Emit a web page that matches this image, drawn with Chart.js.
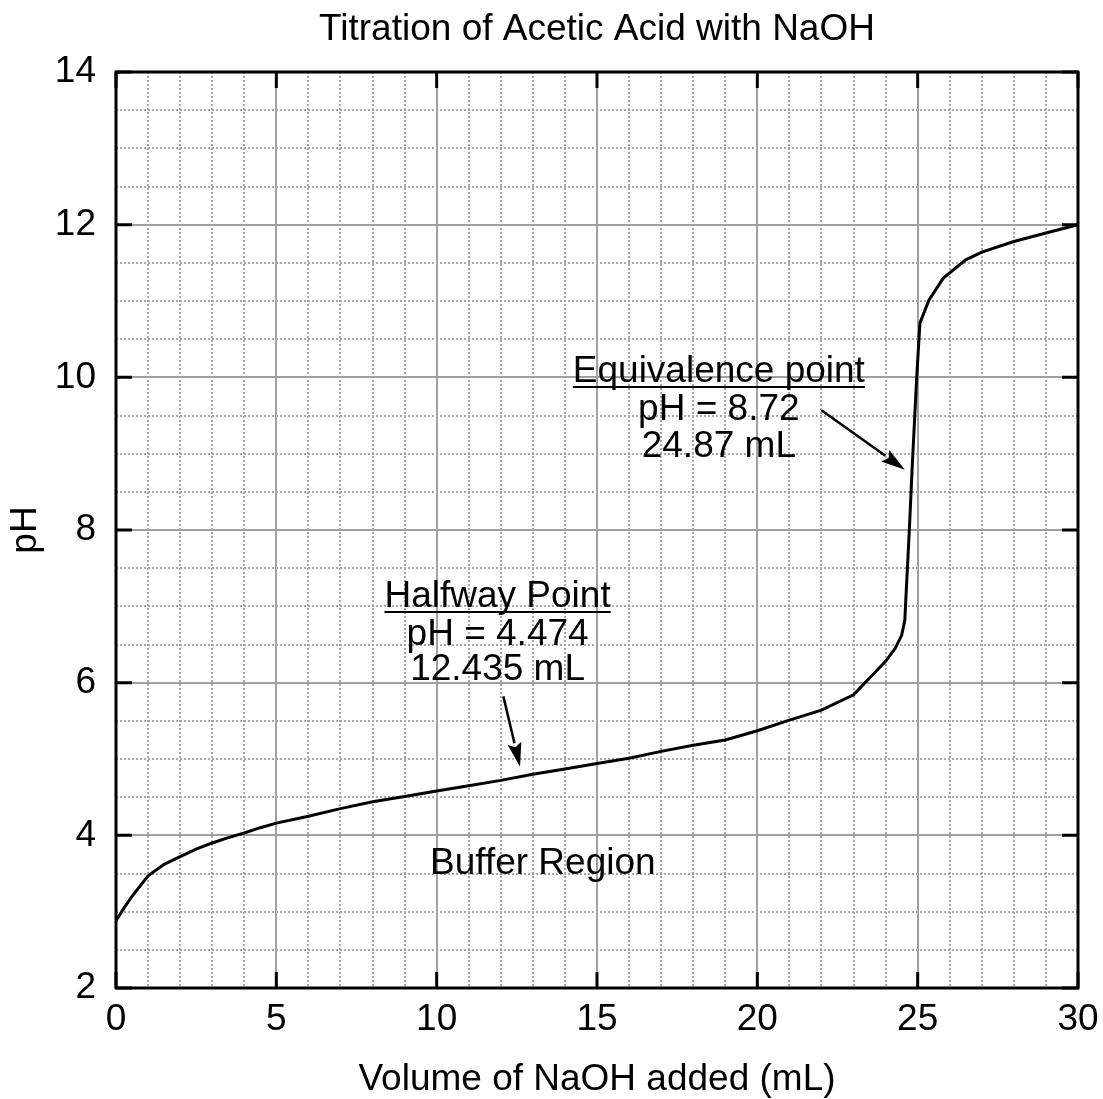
<!DOCTYPE html>
<html>
<head>
<meta charset="utf-8">
<title>Titration of Acetic Acid with NaOH</title>
<script src="https://cdn.jsdelivr.net/npm/chart.js@4.4.1/dist/chart.umd.min.js"></script>
<style>
  html, body { margin: 0; padding: 0; background: #ffffff; }
  #wrap { width: 1103px; height: 1099px; }
</style>
</head>
<body>
<div id="wrap"><canvas id="titrationChart" width="1103" height="1099"></canvas></div>
<script>
// Volume of NaOH added (mL) and the pH
const volumes  = [0, 0.25, 0.5, 1, 1.5, 2, 2.5, 3, 3.5, 4, 4.5, 5, 6, 7, 8, 9, 10, 11, 12, 13, 14, 15,
                  16, 17, 18, 19, 20, 21, 22, 23, 23.5, 24, 24.3, 24.5, 24.6, 24.62, 24.74, 24.83,
                  24.97, 25.07, 25.35, 25.8, 26.5, 27, 28, 29, 30];
const phValues = [2.88, 3.05, 3.20, 3.47, 3.62, 3.72, 3.82, 3.90, 3.97, 4.03, 4.10, 4.16, 4.25, 4.35, 4.44, 4.51, 4.58, 4.65, 4.72, 4.80, 4.87, 4.94,
                  5.01, 5.10, 5.18, 5.25, 5.37, 5.51, 5.64, 5.84, 6.06, 6.28, 6.45, 6.62, 6.82, 7.00, 8.00, 8.83,
                  10.00, 10.71, 11.01, 11.30, 11.54, 11.64, 11.78, 11.89, 12.00];

// axis ticks
const xTickLabels = [0, 5, 10, 15, 20, 25, 30];
const yTickLabels = [2, 4, 6, 8, 10, 12, 14];

const FONT = "'Liberation Sans', Arial, sans-serif";
const FSIZE = 37;

document.addEventListener('DOMContentLoaded', function() {
    const ctx = document.getElementById('titrationChart').getContext('2d');

    const isMajorX = v => xTickLabels.includes(v);
    const isMajorY = v => yTickLabels.includes(v);

    // frame, inner tick marks, title and the text annotations
    const decorations = {
        id: 'decorations',
        afterDatasetsDraw(chart) {
            const c = chart.ctx;
            const a = chart.chartArea;
            const xs = chart.scales.x;
            const ys = chart.scales.y;
            c.save();

            // inner tick marks on all four sides
            c.strokeStyle = '#000';
            c.lineWidth = 3;
            c.beginPath();
            xTickLabels.forEach(v => {
                const px = xs.getPixelForValue(v);
                c.moveTo(px, a.bottom); c.lineTo(px, a.bottom - 16);
                c.moveTo(px, a.top); c.lineTo(px, a.top + 16);
            });
            yTickLabels.forEach(v => {
                const py = ys.getPixelForValue(v);
                c.moveTo(a.left, py); c.lineTo(a.left + 16, py);
                c.moveTo(a.right, py); c.lineTo(a.right - 16, py);
            });
            c.stroke();
            c.strokeRect(a.left, a.top, a.right - a.left, a.bottom - a.top);

            // title
            c.fillStyle = '#000';
            c.textAlign = 'center';
            c.textBaseline = 'alphabetic';
            c.font = FSIZE + 'px ' + FONT;
            c.fillText('Titration of Acetic Acid with NaOH', (a.left + a.right) / 2, 40);

            // annotation blocks: x center in mL, baselines in pH
            function block(lines, xv, baselines, underline) {
                const px = xs.getPixelForValue(xv);
                lines.forEach((t, i) => {
                    const py = ys.getPixelForValue(baselines[i]);
                    c.fillText(t, px, py);
                    if (i === 0 && underline) {
                        const w = c.measureText(t).width;
                        c.lineWidth = 2;
                        c.beginPath();
                        c.moveTo(px - w / 2, py + 5);
                        c.lineTo(px + w / 2, py + 5);
                        c.stroke();
                    }
                });
            }
            function arrow(x0, y0, x1, y1) {
                const p0 = [xs.getPixelForValue(x0), ys.getPixelForValue(y0)];
                const p1 = [xs.getPixelForValue(x1), ys.getPixelForValue(y1)];
                const ang = Math.atan2(p1[1] - p0[1], p1[0] - p0[0]);
                const len = 24, hw = 7;
                const bx = p1[0] - len * Math.cos(ang), by = p1[1] - len * Math.sin(ang);
                c.lineWidth = 2.5;
                c.beginPath();
                c.moveTo(p0[0], p0[1]);
                c.lineTo(bx, by);
                c.stroke();
                c.beginPath();
                c.moveTo(p1[0], p1[1]);
                c.lineTo(bx - hw * Math.sin(ang), by + hw * Math.cos(ang));
                c.lineTo(bx + 4 * Math.cos(ang), by + 4 * Math.sin(ang));
                c.lineTo(bx + hw * Math.sin(ang), by - hw * Math.cos(ang));
                c.closePath();
                c.fill();
            }

            block(['Equivalence point', 'pH = 8.72', '24.87 mL'], 18.8, [9.94, 9.44, 8.96], true);
            arrow(22.0, 9.57, 24.6, 8.79);
            block(['Halfway Point', 'pH = 4.474', '12.435 mL'], 11.9, [6.99, 6.49, 6.04], true);
            arrow(12.08, 5.82, 12.6, 4.90);
            block(['Buffer Region'], 13.31, [3.49], false);

            c.restore();
        }
    };

    const minorColor = '#a8a8a8';
    const majorColor = '#a0a0a0';

    new Chart(ctx, {
        type: 'line',
        data: {
            datasets: [{
                label: 'pH',
                data: volumes.map((v, i) => ({ x: v, y: phValues[i] })),
                borderColor: '#000000',
                borderWidth: 3,
                pointRadius: 0,
                tension: 0,
                fill: false
            }]
        },
        options: {
            responsive: false,
            animation: false,
            devicePixelRatio: 1,
            layout: { padding: { top: 72, right: 25, bottom: 0, left: 0 } },
            scales: {
                x: {
                    type: 'linear',
                    min: 0,
                    max: 30,
                    afterFit: s => { s.height = 111; s.paddingLeft = 0; s.paddingRight = 0; },
                    ticks: {
                        stepSize: 1,
                        autoSkip: false,
                        maxRotation: 0,
                        padding: 10,
                        color: '#000',
                        font: { family: FONT, size: FSIZE },
                        callback: v => isMajorX(v) ? v : ''
                    },
                    grid: {
                        drawTicks: false,
                        color: c => isMajorX(c.tick.value) ? majorColor : minorColor,
                        lineWidth: 2
                    },
                    border: {
                        display: false,
                        dash: c => (c.tick && !isMajorX(c.tick.value)) ? [2, 2] : []
                    },
                    title: {
                        display: true,
                        text: 'Volume of NaOH added (mL)',
                        color: '#000',
                        font: { family: FONT, size: FSIZE, lineHeight: 1 },
                        padding: { top: 0, bottom: 1 }
                    }
                },
                y: {
                    type: 'linear',
                    min: 2,
                    max: 14,
                    afterFit: s => { s.width = 116; s.paddingTop = 0; s.paddingBottom = 0; },
                    ticks: {
                        stepSize: 0.5,
                        autoSkip: false,
                        padding: 20,
                        color: '#000',
                        font: { family: FONT, size: FSIZE },
                        callback: v => isMajorY(v) ? v : ''
                    },
                    grid: {
                        drawTicks: false,
                        color: c => isMajorY(c.tick.value) ? majorColor : minorColor,
                        lineWidth: 2
                    },
                    border: {
                        display: false,
                        dash: c => (c.tick && !isMajorY(c.tick.value)) ? [2, 2] : []
                    },
                    title: {
                        display: true,
                        text: 'pH',
                        color: '#000',
                        font: { family: FONT, size: FSIZE, lineHeight: 1.2 },
                        padding: { top: 4, bottom: 0 }
                    }
                }
            },
            plugins: {
                legend: { display: false },
                title: { display: false },
                tooltip: { enabled: false }
            }
        },
        plugins: [decorations]
    });
});
</script>
</body>
</html>
